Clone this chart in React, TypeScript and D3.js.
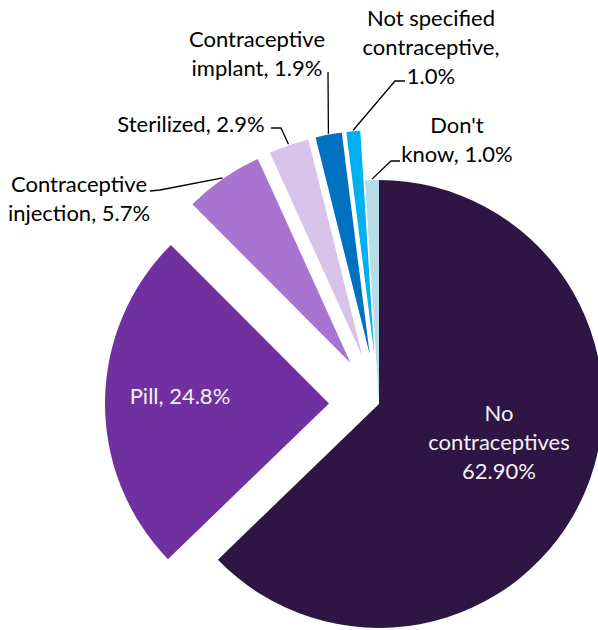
import React from 'react';
import * as d3 from 'd3';

const categories = [
  'No contraceptives',
  'Pill',
  'Contraceptive injection',
  'Sterilized',
  'Contraceptive implant',
  'Not specified contraceptive',
  "Don't know",
];
const values = [62.9, 24.8, 5.7, 2.9, 1.9, 1.0, 1.0];
const labelLines = [
  ['No', 'contraceptives', '62.90%'],
  ['Pill, 24.8%'],
  ['Contraceptive', 'injection, 5.7%'],
  ['Sterilized, 2.9%'],
  ['Contraceptive', 'implant, 1.9%'],
  ['Not specified', 'contraceptive,', '1.0%'],
  ["Don't", 'know, 1.0%'],
];
const colors = ['#2F1544', '#7030A0', '#A974D1', '#D9C3EA', '#0070C0', '#00B0F0', '#B6DDE8'];
const explode = [0, 50, 50, 50, 50, 50, 0];

const W = 598;
const H = 630;
const cx = 379;
const cy = 404;
const R = 224;
const lineH = 29;
const FONT = 'Lato, "Liberation Sans", sans-serif';
const FS = 22;

// centre of first text line for each label
const labelPos: [number, number][] = [
  [499, 412],
  [180, 395],
  [79, 183],
  [191, 123],
  [257, 38],
  [431, 17],
  [457, 124],
];
const labelInside = [true, true, false, false, false, false, false];
// leader polyline points before the slice anchor
const leaderStart: ([number, number][] | null)[] = [
  null,
  null,
  [[150, 191], [160, 190]],
  [[271, 128], [281, 128]],
  [[328, 72]],
  [[405, 81], [395, 81]],
  [[400, 161], [391, 161]],
];

export default function App() {
  const pie = d3.pie<number>().sort(null).value((d) => d);
  const arcs = pie(values);
  const arcGen = d3.arc<d3.PieArcDatum<number>>().innerRadius(0).outerRadius(R);

  return (
    <svg width={W} height={H} style={{ position: 'absolute', left: 0, top: 0, background: '#fff' }}>
      <g transform={`translate(${cx},${cy})`}>
        {arcs.map((a, i) => {
          const mid = (a.startAngle + a.endAngle) / 2;
          const dx = Math.sin(mid) * explode[i];
          const dy = -Math.cos(mid) * explode[i];
          return (
            <path
              key={categories[i]}
              d={arcGen(a) || ''}
              fill={colors[i]}
              transform={`translate(${dx},${dy})`}
            />
          );
        })}
      </g>
      {arcs.map((a, i) => {
        const pts = leaderStart[i];
        if (!pts) return null;
        const mid = (a.startAngle + a.endAngle) / 2;
        const ex = cx + Math.sin(mid) * (explode[i] + R + 1);
        const ey = cy - Math.cos(mid) * (explode[i] + R + 1);
        const all = [...pts, [ex, ey]] as [number, number][];
        return (
          <polyline
            key={'l' + i}
            points={all.map((p) => p.join(',')).join(' ')}
            fill="none"
            stroke="#000"
            strokeWidth={1.3}
          />
        );
      })}
      {labelLines.map((lines, i) => (
        <text
          key={'t' + i}
          fontFamily={FONT}
          fontSize={FS}
          fill={labelInside[i] ? '#F4F0F7' : '#000'}
          textAnchor="middle"
        >
          {lines.map((ln, j) => (
            <tspan key={j} x={labelPos[i][0]} y={labelPos[i][1] + j * lineH} dominantBaseline="central">
              {ln}
            </tspan>
          ))}
        </text>
      ))}
    </svg>
  );
}
